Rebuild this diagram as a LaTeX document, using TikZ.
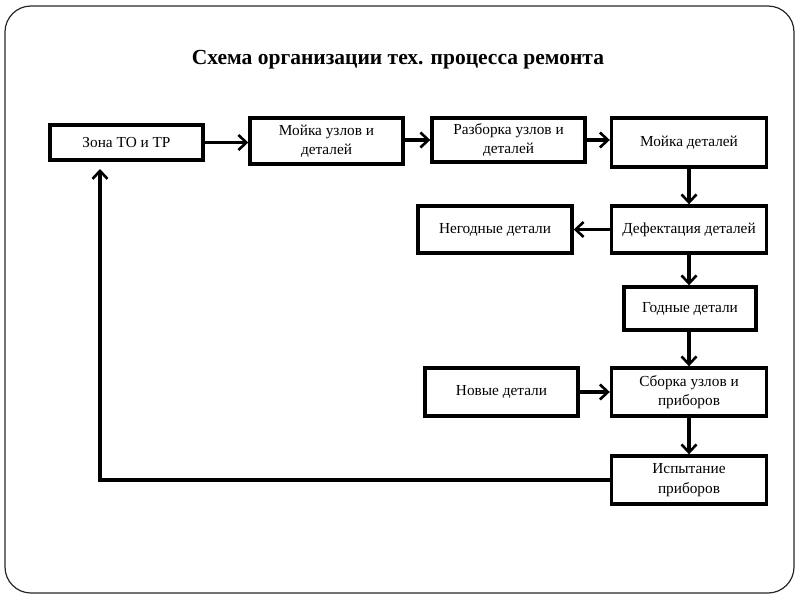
\documentclass[tikz,border=0pt]{standalone}
\usepackage{fontspec}
\setmainfont{Liberation Serif}
\usetikzlibrary{arrows.meta}
\begin{document}
\begin{tikzpicture}[x=1pt,y=-1pt,
  box/.style={draw,line width=3.4pt,align=center,font=\fontsize{15.3}{19.5}\selectfont,inner sep=0pt},
  conn/.style={line width=3.4pt,-{Straight Barb[length=8pt,width=15pt,line width=2.6pt]}},
  frame/.style={draw=black!85,line width=1.2pt,rounded corners=26pt}]
\useasboundingbox (0,0) rectangle (800,600);
\draw[frame] (5,6) rectangle (794,593);
\node[font=\bfseries\fontsize{21.5}{25}\selectfont] (title) at (398,60) {Схема организации тех. процесса ремонта};
\node[box,minimum width=153pt,minimum height=35pt] (zona) at (126.5,142.5) {Зона ТО и ТР};
\node[box,minimum width=153pt,minimum height=46pt] (moika1) at (326.5,141) {Мойка узлов и\\деталей};
\node[box,minimum width=153pt,minimum height=44pt] (razb) at (508.5,140) {Разборка узлов и\\деталей};
\node[box,minimum width=155pt,minimum height=49pt] (moika2) at (689,142.5) {Мойка деталей};
\node[box,minimum width=154pt,minimum height=47pt] (neg) at (495,229.5) {Негодные детали};
\node[box,minimum width=155pt,minimum height=47pt] (def) at (689,229.5) {Дефектация деталей};
\node[box,minimum width=132pt,minimum height=43pt] (god) at (690,308.5) {Годные детали};
\node[box,minimum width=153pt,minimum height=48pt] (nov) at (501.5,392) {Новые детали};
\node[box,minimum width=155pt,minimum height=48pt] (sbor) at (689,392) {Сборка узлов и\\приборов};
\node[box,minimum width=155pt,minimum height=48pt] (isp) at (689,480) {Испытание\\приборов};
\coordinate (backtip) at (100,169);
\coordinate (corner) at (isp.west -| backtip);
\draw[conn] (zona.east) -- (zona.east -| moika1.west);
\draw[conn] (moika1.east |- razb.west) -- (razb.west);
\draw[conn] (razb.east) -- (razb.east -| moika2.west);
\draw[conn] (moika2.south) -- (def.north);
\draw[conn] (def.west) -- (neg.east);
\draw[conn] (def.south) -- (def.south |- god.north);
\draw[conn] (god.south -| sbor.north) -- (sbor.north);
\draw[conn] (nov.east) -- (sbor.west);
\draw[conn] (sbor.south) -- (isp.north);
\draw[conn] (isp.west) -- (corner) -- (backtip);
\end{tikzpicture}
\end{document}
